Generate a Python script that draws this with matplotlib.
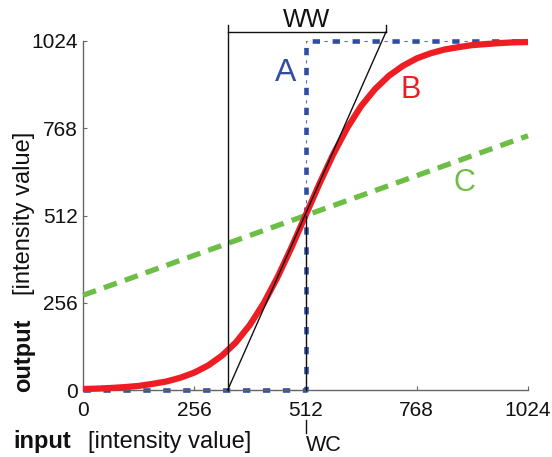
import matplotlib
matplotlib.use('Agg')
import matplotlib.pyplot as plt

plt.rcParams['font.family'] = ['Liberation Sans', 'DejaVu Sans']

# --- DATA ---
# A: hard window (step at the window centre)
a_x = [0, 512, 512, 1024]
a_y = [0, 0, 1024, 1024]

# B: sigmoid window
b_x = [0, 32, 64, 96, 128, 160, 192, 224, 256, 288, 320, 352, 384, 416, 448, 480,
       512, 544, 576, 608, 640, 672, 704, 736, 768, 800, 832, 864, 896, 928, 960, 992, 1024]
b_y = [3, 4, 6, 8.5, 12, 18, 25, 36, 51, 72, 101, 140, 191, 255, 332, 419,
       512, 605, 692, 769, 833, 883, 922, 951, 973, 988, 999, 1006, 1012, 1015, 1018, 1020, 1021]

# C: linear mapping
c_x = [0, 1024]
c_y = [278, 746]

# window width / centre construction
ww_left, ww_right, ww_y, ww_top = 333, 697, 1050, 1071
wc = 512

ticks = [0, 256, 512, 768, 1024]

BLUE = '#2F4EA2'
RED = '#EE1D24'
GREEN = '#6DBE45'

# --- FIGURE ---
fig = plt.figure(figsize=(5.52, 4.57), dpi=100)
ax = fig.add_axes([83/552, 67/457, 445/552, 349/457])
ax.set_xlim(0, 1024)
ax.set_ylim(0, 1024)

for s in ['top', 'right']:
    ax.spines[s].set_visible(False)
for s in ['left', 'bottom']:
    ax.spines[s].set_color('#666666')
    ax.spines[s].set_linewidth(1.0)

ax.set_xticks(ticks)
ax.set_yticks(ticks)
ax.tick_params(direction='in', length=3, width=0.8, color='#666666',
               labelsize=15, labelcolor='#111111')
ax.tick_params(axis='x', pad=8)
ax.tick_params(axis='y', pad=4)

# A: short thick dashes with thin dashes in the gaps
ax.plot(a_x, a_y, color=BLUE, lw=3.3, linestyle=(0, (1.6, 2.75)),
        solid_capstyle='butt', dash_capstyle='butt', clip_on=False, zorder=2)
ax.plot(a_x, a_y, color=BLUE, lw=0.8, linestyle=(-9, (3, 15)),
        dash_capstyle='butt', clip_on=False, zorder=2, alpha=0.8)

# C
ax.plot(c_x, c_y, color=GREEN, lw=3.8, linestyle=(0, (2.6, 1.6)),
        dash_capstyle='butt', clip_on=False, zorder=3)

# B
ax.plot(b_x, b_y, color=RED, lw=4.5, clip_on=False, zorder=4,
        solid_capstyle='butt')

# window construction lines
k = dict(color='#111111', lw=1.0, clip_on=False, zorder=5)
ax.plot([ww_left, ww_right], [0, ww_y], **k)
ax.plot([ww_left, ww_left], [0, ww_top], **k)
ax.plot([ww_left, ww_right], [ww_y, ww_y], **k)
ax.plot([ww_right, ww_right], [ww_y, ww_top], **k)
ax.plot([wc, wc], [0, 512], **k)
ax.plot([wc, wc], [-88, -126], **k)

# labels on the plot
ax.text((ww_left + ww_right) / 2, 1085, 'WW', fontsize=18, ha='center', va='center',
        color='#111111')
ax.text(wc + 2, -163, 'WC', fontsize=15.5, ha='left', va='center', color='#111111')
ax.text(467, 930, 'A', fontsize=23, ha='center', va='center', color=BLUE)
ax.text(755, 881, 'B', fontsize=22, ha='center', va='center', color=RED)
ax.text(877, 608, 'C', fontsize=22, ha='center', va='center', color=GREEN)

# axis labels (bold word + regular unit)
fig.text(13/552, 9/457, 'input', fontsize=17, fontweight='bold', ha='left',
         va='baseline', color='#111111')
fig.text(88/552, 9/457, '[intensity value]', fontsize=17, ha='left',
         va='baseline', color='#111111')
fig.text(24/552, 65/457, 'output', fontsize=17, fontweight='bold', rotation=90,
         ha='center', va='bottom', color='#111111')
fig.text(24/552, 162/457, '[intensity value]', fontsize=17, rotation=90,
         ha='center', va='bottom', color='#111111')

plt.savefig('out.png', dpi=100, facecolor='white')
plt.close()
